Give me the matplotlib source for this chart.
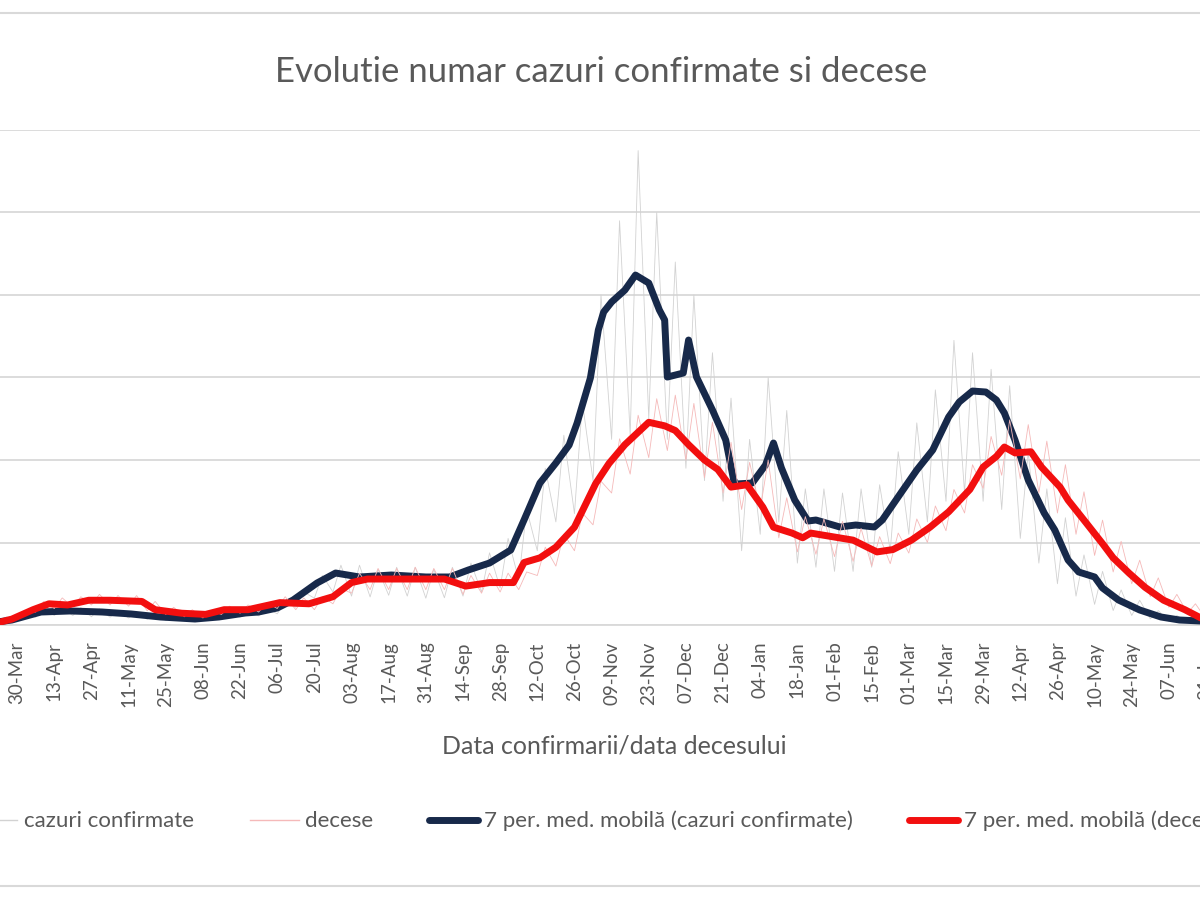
import matplotlib
matplotlib.use("Agg")
import matplotlib.pyplot as plt
import matplotlib.dates as mdates
from matplotlib.lines import Line2D
import pandas as pd
import numpy as np

plt.rcParams['font.family'] = ['Lato', 'DejaVu Sans']

# ---------------- data ----------------
title = "Evolutie numar cazuri confirmate si decese"
xlabel = "Data confirmarii/data decesului"
labels = ["cazuri confirmate", "decese",
          "7 per. med. mobilă (cazuri confirmate)", "7 per. med. mobilă (decese)"]

# 7-day moving average of confirmed cases (primary axis)
ma_cases_dates = [
    "2020-03-21", "2020-03-28", "2020-04-08", "2020-04-19", "2020-05-01", "2020-05-12", "2020-05-23",
    "2020-06-05", "2020-06-14", "2020-06-24", "2020-06-29", "2020-07-06", "2020-07-12", "2020-07-21",
    "2020-07-28", "2020-08-06", "2020-08-18", "2020-08-31", "2020-09-09", "2020-09-16", "2020-09-24",
    "2020-10-02", "2020-10-07", "2020-10-13", "2020-10-19", "2020-10-24", "2020-10-27", "2020-11-01",
    "2020-11-04", "2020-11-06", "2020-11-09", "2020-11-14", "2020-11-18", "2020-11-23", "2020-11-27",
    "2020-11-29", "2020-11-30", "2020-12-06", "2020-12-08", "2020-12-11", "2020-12-17", "2020-12-22",
    "2020-12-25", "2020-12-26", "2021-01-01", "2021-01-06", "2021-01-09", "2021-01-12", "2021-01-17",
    "2021-01-22", "2021-01-25", "2021-02-03", "2021-02-09", "2021-02-16", "2021-02-19", "2021-02-26",
    "2021-03-04", "2021-03-10", "2021-03-16", "2021-03-20", "2021-03-25", "2021-03-30", "2021-04-03",
    "2021-04-06", "2021-04-10", "2021-04-15", "2021-04-21", "2021-04-25", "2021-04-30", "2021-05-04",
    "2021-05-10", "2021-05-13", "2021-05-19", "2021-05-27", "2021-06-04", "2021-06-11", "2021-06-19",
    "2021-06-26"]
ma_cases = [
    60, 121, 315, 340, 315, 267, 194,
    145, 194, 291, 315, 412, 606, 1018,
    1260, 1164, 1212, 1164, 1164, 1333, 1503,
    1818, 2545, 3442, 3927, 4363, 4896, 5987,
    7151, 7587, 7830, 8120, 8484, 8290, 7636,
    7393, 6011, 6108, 6908, 6011, 5212, 4484,
    3515, 3418, 3442, 3878, 4412, 3806, 3030,
    2521, 2545, 2376, 2424, 2376, 2545, 3200,
    3757, 4242, 5042, 5406, 5672, 5648, 5454,
    5139, 4484, 3515, 2715, 2303, 1576, 1285,
    1164, 897, 606, 364, 194, 121, 97,
    80]

# 7-day moving average of deaths (secondary axis)
ma_deaths_dates = [
    "2020-03-21", "2020-03-28", "2020-04-05", "2020-04-11", "2020-04-18", "2020-04-26", "2020-05-04",
    "2020-05-16", "2020-05-21", "2020-05-31", "2020-06-09", "2020-06-16", "2020-06-25", "2020-06-29",
    "2020-07-07", "2020-07-18", "2020-07-27", "2020-08-03", "2020-08-09", "2020-08-18", "2020-08-31",
    "2020-09-07", "2020-09-15", "2020-09-24", "2020-10-03", "2020-10-07", "2020-10-13", "2020-10-19",
    "2020-10-26", "2020-11-03", "2020-11-08", "2020-11-14", "2020-11-23", "2020-11-29", "2020-12-03",
    "2020-12-08", "2020-12-14", "2020-12-19", "2020-12-24", "2020-12-30", "2021-01-05", "2021-01-09",
    "2021-01-16", "2021-01-20", "2021-01-23", "2021-01-31", "2021-02-08", "2021-02-17", "2021-02-23",
    "2021-03-02", "2021-03-09", "2021-03-16", "2021-03-24", "2021-03-29", "2021-04-03", "2021-04-06",
    "2021-04-10", "2021-04-16", "2021-04-20", "2021-04-27", "2021-04-30", "2021-05-06", "2021-05-13",
    "2021-05-17", "2021-05-23", "2021-05-29", "2021-06-05", "2021-06-13", "2021-06-19", "2021-06-26"]
ma_deaths = [
    1, 5, 13, 18, 17, 21, 21,
    20, 13, 10, 9, 13, 13, 15,
    19, 18, 24, 36, 39, 39, 39,
    39, 33, 36, 36, 53, 57, 66,
    83, 120, 137, 153, 172, 169, 165,
    153, 140, 132, 117, 119, 100, 83,
    78, 74, 78, 75, 72, 62, 64,
    72, 83, 96, 115, 134, 143, 151,
    146, 147, 134, 117, 106, 89, 69,
    57, 44, 32, 21, 13, 6, 4]

# daily series, read as weekly low (Monday) / high (Thursday) pairs
raw_mondays = pd.date_range("2020-03-23", "2021-06-28", freq="7D")
cases_low = [60, 140, 190, 230, 230, 200, 190, 170, 140, 110, 100, 110, 130, 190, 220, 270,
             430, 650, 800, 700, 680, 720, 700, 650, 660, 700, 800, 900, 1100, 1800, 2500,
             2700, 3500, 4500, 4600, 5000, 4500, 3800, 3500, 3000, 1800, 2200, 2500,
             1500, 1400, 1300, 1300, 1400, 1800, 2200, 2500, 3000, 3200, 3000, 2800, 2100,
             1500, 1000, 700, 500, 350, 230, 150, 90, 70, 50, 40]
cases_high = [200, 260, 420, 400, 420, 390, 340, 320, 260, 230, 200, 220, 280, 350, 420, 560,
              800, 1200, 1450, 1450, 1350, 1400, 1400, 1350, 1400, 1500, 1750, 2100, 2800, 3800,
              4600, 5400, 8000, 9800, 11500, 10000, 8800, 8000, 6600, 5500, 4500, 6000, 5200,
              3300, 3300, 3200, 3300, 3400, 4200, 4900, 5700, 6900, 6600, 6200, 5800,
              4200, 3300, 2600, 1700, 1300, 850, 600, 350, 230, 150, 120, 100]
deaths_low = [2, 6, 11, 14, 15, 17, 17, 16, 12, 9, 7, 6, 9, 10, 11, 14, 13, 13, 18, 27, 30,
              30, 30, 30, 30, 26, 27, 28, 30, 42, 50, 63, 85, 112, 128, 142, 148, 140, 125,
              112, 98, 98, 74, 62, 60, 58, 54, 50, 52, 61, 70, 80, 95, 116, 127, 124, 112,
              95, 77, 59, 45, 35, 24, 15, 10, 5, 4]
deaths_high = [5, 11, 20, 23, 24, 26, 25, 25, 20, 15, 13, 12, 16, 17, 19, 24, 23, 24, 31, 44,
               48, 48, 49, 48, 48, 42, 44, 44, 45, 66, 77, 95, 122, 158, 178, 192, 195, 188,
               172, 155, 138, 140, 108, 92, 90, 88, 82, 75, 78, 90, 101, 115, 136, 160,
               174, 170, 156, 136, 113, 89, 71, 55, 40, 26, 18, 11, 8]

tick_dates = pd.date_range("2020-03-16", "2021-07-05", freq="14D")

# ---------------- styling ----------------
GRID = "#d9d9d9"
TXT = "#595959"
NAVY = "#17294a"
RED = "#f20f0f"
GREY_RAW = "#d2d2d2"
PINK_RAW = "#f5b9b9"

W, H = 1200, 900
fig = plt.figure(figsize=(12, 9), dpi=100)
fig.patch.set_facecolor("white")

ax_left_px, ax_right_px = -20, 1248
ax_top_px, ax_bot_px = 130, 625
ax = fig.add_axes([ax_left_px / W, 1 - ax_bot_px / H,
                   (ax_right_px - ax_left_px) / W, (ax_bot_px - ax_top_px) / H])
ax2 = ax.twinx()

# interleave low/high points for the daily series
raw_dates = []
c_raw, d_raw = [], []
for i, m in enumerate(raw_mondays):
    raw_dates += [m, m + pd.Timedelta(days=3)]
    c_raw += [cases_low[i], cases_high[i]]
    d_raw += [deaths_low[i], deaths_high[i]]
raw_dates = pd.to_datetime(raw_dates)

ax.plot(raw_dates, c_raw, color=GREY_RAW, lw=0.6, zorder=2)
ax.plot(pd.to_datetime(ma_cases_dates), ma_cases, color=NAVY, lw=5,
        solid_joinstyle="round", solid_capstyle="round", zorder=3)
ax2.plot(raw_dates, d_raw, color=PINK_RAW, lw=0.6, zorder=2)
ax2.plot(pd.to_datetime(ma_deaths_dates), ma_deaths, color=RED, lw=5,
         solid_joinstyle="round", solid_capstyle="round", zorder=3)

base = mdates.date2num(pd.Timestamp("2020-03-30"))
x0_px, ppd = 5, 2.68  # pixel of 30-Mar-2020, pixels per day
ax.set_xlim(base + (ax_left_px - x0_px) / ppd, base + (ax_right_px - x0_px) / ppd)
ax.set_ylim(0, 12000)
ax2.set_ylim(0, 420)

ax.set_yticks(np.arange(0, 12001, 2000))
ax.yaxis.grid(True, color=GRID, lw=1.3)
ax.set_axisbelow(True)
ax.tick_params(axis="y", left=False, labelleft=False)
ax2.tick_params(axis="y", right=False, labelright=False)
for a in (ax, ax2):
    for s in a.spines.values():
        s.set_visible(False)
ax.spines["bottom"].set_visible(True)
ax.spines["bottom"].set_color(GRID)
ax.spines["bottom"].set_linewidth(1.3)

ax.set_xticks(mdates.date2num(tick_dates))
ax.xaxis.set_major_formatter(mdates.DateFormatter("%d-%b"))
ax.tick_params(axis="x", length=0, pad=12, labelsize=13.5, labelcolor=TXT, labelrotation=90)

fig.text(601 / W, 1 - 72 / H, title, ha="center", va="center", fontsize=25, color=TXT)
fig.text(614 / W, 1 - 746 / H, xlabel, ha="center", va="center", fontsize=18, color=TXT)

handles = [Line2D([], [], color=GREY_RAW, lw=1.0),
           Line2D([], [], color=PINK_RAW, lw=1.0),
           Line2D([], [], color=NAVY, lw=5, solid_capstyle="round"),
           Line2D([], [], color=RED, lw=5, solid_capstyle="round")]
fig.legend(handles, labels, loc="center", bbox_to_anchor=(0.5, 1 - 821 / H), ncol=4,
           frameon=False, fontsize=16, handlelength=2.2, handletextpad=0.3,
           columnspacing=2.5, labelcolor=TXT)

for yp in (13, 886):
    fig.add_artist(Line2D([0, 1], [1 - yp / H, 1 - yp / H], color=GRID, lw=1.5,
                          transform=fig.transFigure))

fig.savefig("out.png", dpi=100)
